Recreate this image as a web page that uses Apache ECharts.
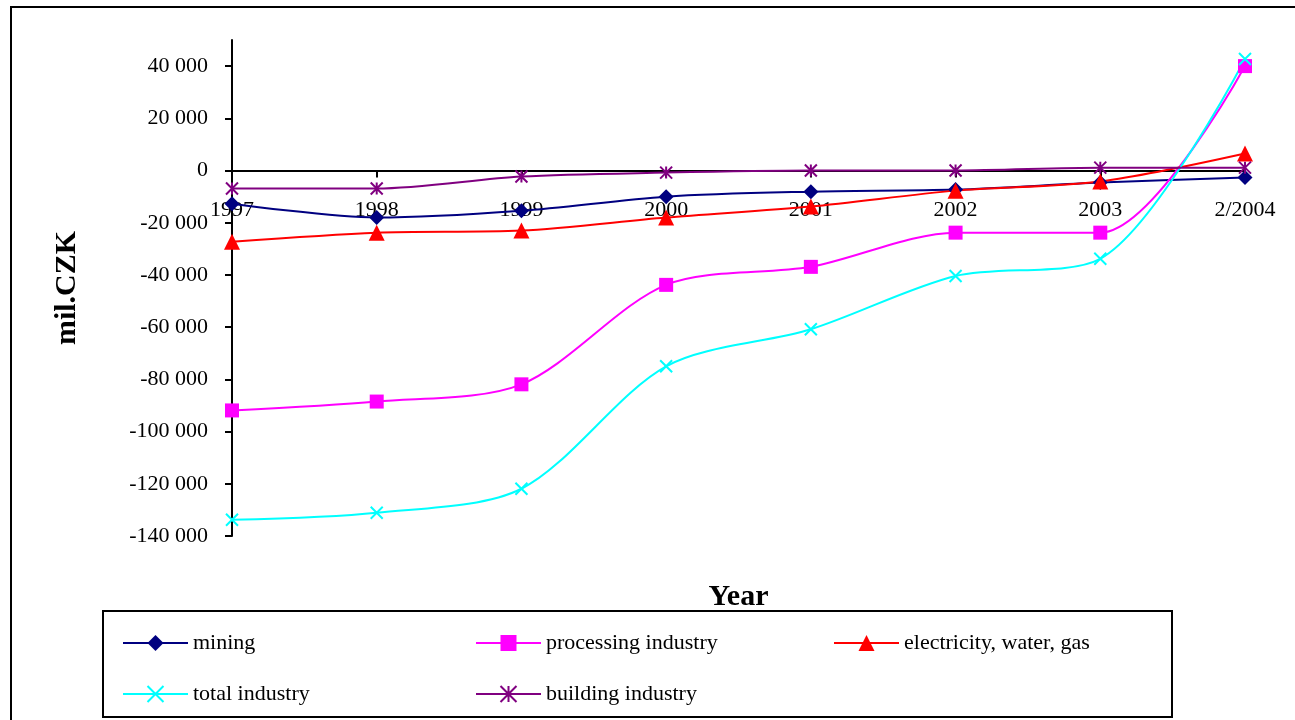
<!DOCTYPE html>
<html>
<head>
<meta charset="utf-8">
<script src="https://cdn.jsdelivr.net/npm/echarts@6/dist/echarts.min.js"></script>
<style>
  html, body { margin: 0; padding: 0; background: #fff; }
  #chart { width: 1295px; height: 720px; }
</style>
</head>
<body>
<div id="chart"></div>
<script>
const years = ["1997", "1998", "1999", "2000", "2001", "2002", "2003", "2/2004"];
const mining = [-12700, -18000, -15400, -10000, -8100, -7300, -4600, -2700];
const processing = [-91900, -88500, -81900, -43800, -36900, -23800, -23800, 40000];
const electricity = [-27300, -23800, -23000, -18000, -13800, -7700, -4200, 6500];
const totalIndustry = [-133800, -131100, -121900, -75000, -60800, -40400, -33800, 42700];
const building = [-6900, -6900, -2300, -800, 0, 0, 1100, 1100];

const serif = "Liberation Serif";
const crossPath = "path://M0,0 L10,10 M10,0 L0,10";
const starPath = "path://M5,0 L5,10 M0,0 L10,10 M10,0 L0,10";

// y axis range; the x axis sits on the zero line
const yMin = -140000;
const yMax = 50000;
const gridTop = 40;
const gridBottom = 184;
const plotH = 720 - gridTop - gridBottom;
const zeroOffset = plotH * (0 - yMin) / (yMax - yMin);

function fmt(v) {
  const s = Math.abs(v).toString().replace(/\B(?=(\d{3})+(?!\d))/g, " ");
  return (v < 0 ? "-" : "") + s;
}

function makeSeries(name, data, color, symbol, size, stroke) {
  return {
    name: name,
    type: "line",
    data: data,
    smooth: 0.3,
    symbol: symbol,
    symbolSize: size,
    showAllSymbol: true,
    z: 3,
    lineStyle: { color: color, width: 2 },
    itemStyle: stroke
      ? { color: "transparent", borderColor: color, borderWidth: 2 }
      : { color: color },
    emphasis: { disabled: true },
    animation: false
  };
}

function legendAt(name, left, top) {
  return {
    data: [name],
    left: left,
    top: top,
    itemWidth: 65,
    itemHeight: 20,
    textStyle: { fontFamily: serif, fontSize: 22, color: "#000" },
    selectedMode: false
  };
}

const chart = echarts.init(document.getElementById("chart"));
chart.setOption({
  backgroundColor: "#fff",
  animation: false,
  grid: { left: 232, right: 50, top: gridTop, bottom: gridBottom, containLabel: false, outerBoundsMode: "none" },
  xAxis: {
    type: "category",
    data: years,
    boundaryGap: false,
    position: "bottom",
    offset: -zeroOffset,
    name: "Year",
    nameLocation: "middle",
    nameGap: 412,
    nameTextStyle: { fontFamily: serif, fontSize: 30, fontWeight: "bold", color: "#000" },
    axisLine: { onZero: false, lineStyle: { color: "#000", width: 2 } },
    axisTick: { show: true, alignWithLabel: true, length: 7, lineStyle: { color: "#000", width: 2 } },
    axisLabel: { margin: 29, fontFamily: serif, fontSize: 22, color: "#000" },
    splitLine: { show: false }
  },
  yAxis: {
    type: "value",
    min: yMin,
    max: yMax,
    interval: 20000,
    name: "mil.CZK",
    nameLocation: "middle",
    nameRotate: 90,
    nameGap: 150,
    nameTextStyle: { fontFamily: serif, fontSize: 30, fontWeight: "bold", color: "#000" },
    axisLine: { show: true, lineStyle: { color: "#000", width: 2 } },
    axisTick: { show: true, length: 7, lineStyle: { color: "#000", width: 2 } },
    axisLabel: {
      margin: 24,
      fontFamily: serif,
      fontSize: 22,
      color: "#000",
      showMaxLabel: false,
      formatter: function (v) { return v === yMax ? "" : fmt(v); }
    },
    splitLine: { show: false }
  },
  legend: [
    legendAt("mining", 117, 627),
    legendAt("processing industry", 470, 627),
    legendAt("electricity, water, gas", 828, 627),
    legendAt("total industry", 117, 678),
    legendAt("building industry", 470, 678)
  ],
  graphic: [
    { type: "rect", shape: { x: 11, y: 7, width: 1320, height: 800 }, style: { fill: "none", stroke: "#000", lineWidth: 2 }, silent: true },
    { type: "rect", shape: { x: 103, y: 611, width: 1069, height: 106 }, style: { fill: "none", stroke: "#000", lineWidth: 2 }, silent: true }
  ],
  series: [
    makeSeries("mining", mining, "#000080", "diamond", 15, false),
    makeSeries("processing industry", processing, "#FF00FF", "rect", 14, false),
    makeSeries("electricity, water, gas", electricity, "#FF0000", "triangle", 16, false),
    makeSeries("total industry", totalIndustry, "#00FFFF", crossPath, 12, true),
    makeSeries("building industry", building, "#800080", starPath, 12, true)
  ]
});
</script>
</body>
</html>
